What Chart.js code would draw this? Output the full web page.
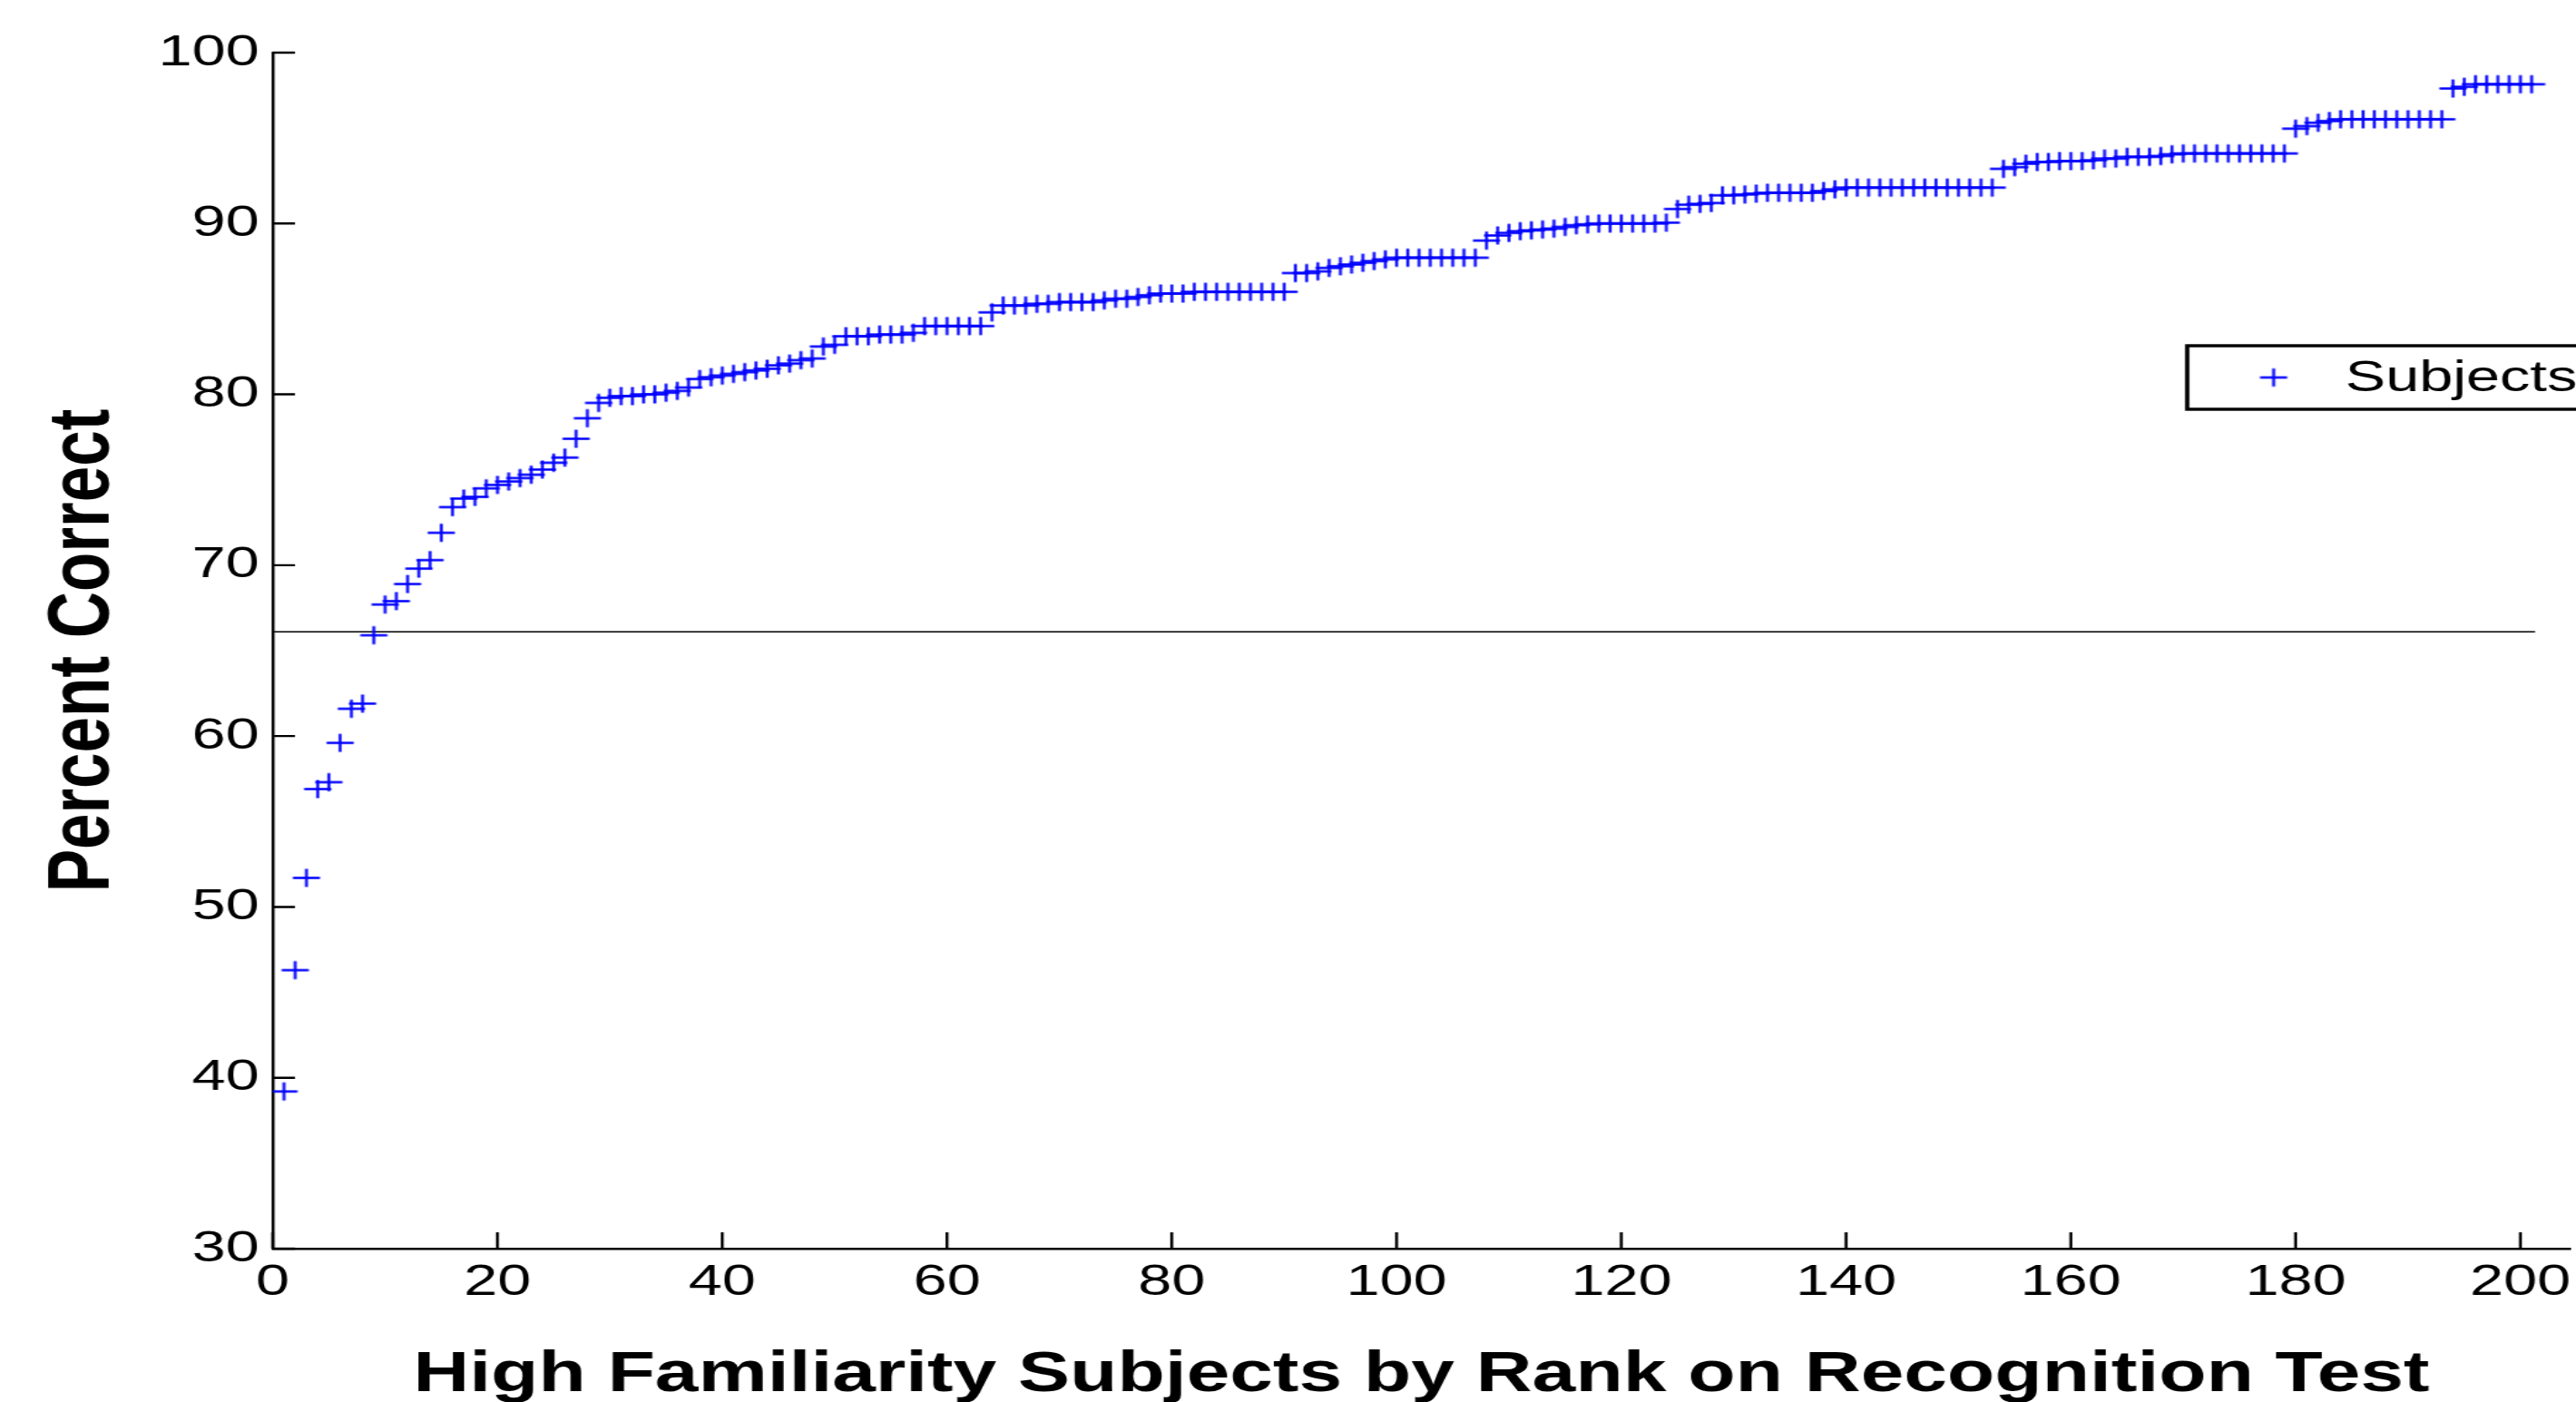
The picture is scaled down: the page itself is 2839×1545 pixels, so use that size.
<!DOCTYPE html>
<html>
<head>
<meta charset="utf-8">
<title>Percent Correct by Rank</title>
<script src="https://cdn.jsdelivr.net/npm/chart.js@4.4.1/dist/chart.umd.min.js"></script>
<style>
  html, body { margin: 0; padding: 0; background: #fff; overflow: hidden; }
  canvas { display: block; }
</style>
</head>
<body>
<!-- drawn on a narrower bitmap, then widened by CSS for the stretched look -->
<canvas id="chart" width="2087" height="1545" style="width:2839px;height:1545px"></canvas>
<script>
// Percent correct for each subject, ordered by rank (rank 1 = lowest score)
const percentCorrect = [
  39.2, 46.3, 51.7, 56.9, 57.3, 59.6, 61.6, 61.9, 65.9, 67.7,
  67.9, 68.9, 69.8, 70.3, 71.9, 73.4, 73.9, 74.0, 74.5, 74.7,
  74.9, 75.1, 75.3, 75.6, 76.0, 76.3, 77.4, 78.6, 79.5, 79.8,
  79.9, 79.9, 80.0, 80.0, 80.1, 80.2, 80.4, 80.9, 81.0, 81.1,
  81.2, 81.3, 81.4, 81.5, 81.7, 81.8, 82.0, 82.1, 82.8, 82.9,
  83.4, 83.4, 83.4, 83.5, 83.5, 83.5, 83.6, 84.0, 84.0, 84.0,
  84.0, 84.0, 84.0, 84.8, 85.2, 85.2, 85.2, 85.3, 85.3, 85.4,
  85.4, 85.4, 85.4, 85.5, 85.6, 85.6, 85.7, 85.8, 85.9, 85.9,
  85.9, 86.0, 86.0, 86.0, 86.0, 86.0, 86.0, 86.0, 86.0, 86.0,
  87.1, 87.1, 87.2, 87.4, 87.5, 87.6, 87.7, 87.8, 87.9, 88.0,
  88.0, 88.0, 88.0, 88.0, 88.0, 88.0, 88.0, 89.0, 89.3, 89.45,
  89.55, 89.6, 89.65, 89.7, 89.8, 89.9, 89.95, 90.0, 90.0, 90.0,
  90.0, 90.0, 90.0, 90.05, 90.85, 91.1, 91.15, 91.2, 91.65, 91.65,
  91.7, 91.75, 91.8, 91.8, 91.8, 91.8, 91.8, 91.9, 92.0, 92.1,
  92.1, 92.1, 92.1, 92.1, 92.1, 92.1, 92.1, 92.1, 92.1, 92.1,
  92.1, 92.1, 92.1, 93.2, 93.3, 93.5, 93.6, 93.6, 93.65, 93.65,
  93.65, 93.7, 93.8, 93.8, 93.9, 93.9, 93.9, 93.95, 94.05, 94.1,
  94.1, 94.1, 94.1, 94.1, 94.1, 94.1, 94.1, 94.1, 94.1, 95.55,
  95.7, 95.9, 96.0, 96.1, 96.1, 96.1, 96.1, 96.1, 96.1, 96.1,
  96.1, 96.1, 96.1, 97.9, 98.0, 98.15, 98.15, 98.15, 98.15, 98.15,
  98.15
];

// Horizontal criterion line
const criterionLevel = 66.1;
const criterionSpan = [0, 201.3];

const xTickValues = [0, 20, 40, 60, 80, 100, 120, 140, 160, 180, 200];
const yTickValues = [30, 40, 50, 60, 70, 80, 90, 100];

const xAxisTitle = 'High Familiarity Subjects by Rank on Recognition Test';
const yAxisTitle = 'Percent Correct';
const seriesLabel = 'Subjects';

const FONT = "'Liberation Sans', Arial, Helvetica, sans-serif";
const BLUE = '#0000ff';

// '+' marker drawn once into a small canvas and used as the point style
function makeCross(w, h, lw, color) {
  const c = document.createElement('canvas');
  c.width = Math.ceil(w + lw);
  c.height = Math.ceil(h + lw);
  const g = c.getContext('2d');
  const cx = c.width / 2, cy = c.height / 2;
  g.strokeStyle = color;
  g.lineWidth = lw;
  g.beginPath();
  g.moveTo(cx - w / 2, cy); g.lineTo(cx + w / 2, cy);
  g.moveTo(cx, cy - h / 2); g.lineTo(cx, cy + h / 2);
  g.stroke();
  return c;
}
const crossMarker = makeCross(22, 20, 2.3, BLUE);

const points = percentCorrect.map((v, i) => ({ x: i + 1, y: v }));
const criterionPoints = criterionSpan.map(x => ({ x, y: criterionLevel }));

// Inward tick marks and the boxed legend
const axesDecor = {
  id: 'axesDecor',
  afterDraw(chart) {
    const { ctx, chartArea: a, scales: { x, y } } = chart;
    ctx.save();
    ctx.strokeStyle = '#000';
    ctx.lineWidth = 2.4;
    ctx.beginPath();
    yTickValues.forEach(v => {
      const py = y.getPixelForValue(v);
      ctx.moveTo(a.left, py); ctx.lineTo(a.left + 18, py);
    });
    xTickValues.forEach(v => {
      const px = x.getPixelForValue(v);
      ctx.moveTo(px, a.bottom); ctx.lineTo(px, a.bottom - 18);
    });
    ctx.stroke();

    // legend box
    const boxLeft = 1772, boxTop = 381, boxBottom = 451;
    ctx.fillStyle = '#fff';
    ctx.fillRect(boxLeft, boxTop, 600, boxBottom - boxTop);
    ctx.lineWidth = 3.4;
    ctx.strokeRect(boxLeft, boxTop, 600, boxBottom - boxTop);
    const midY = (boxTop + boxBottom) / 2;
    ctx.drawImage(crossMarker, 1842 - crossMarker.width / 2, midY - crossMarker.height / 2);
    ctx.fillStyle = '#000';
    ctx.font = `49px ${FONT}`;
    ctx.textAlign = 'left';
    ctx.textBaseline = 'middle';
    ctx.fillText(seriesLabel, 1900, midY + 1);
    ctx.restore();
  }
};

new Chart(document.getElementById('chart'), {
  type: 'scatter',
  data: {
    datasets: [
      {
        label: seriesLabel,
        data: points,
        pointStyle: crossMarker,
        showLine: false
      },
      {
        type: 'line',
        label: 'criterion',
        data: criterionPoints,
        borderColor: '#000',
        borderWidth: 1.6,
        pointRadius: 0,
        fill: false
      }
    ]
  },
  options: {
    responsive: false,
    devicePixelRatio: 1,
    animation: false,
    events: [],
    layout: { padding: { top: 58, left: 0, right: 0, bottom: 0 } },
    plugins: {
      legend: { display: false },
      tooltip: { enabled: false },
      title: { display: false }
    },
    scales: {
      x: {
        type: 'linear',
        min: 0,
        max: 204.4,
        grid: { display: false, drawTicks: false },
        border: { display: true, color: '#000', width: 2.4 },
        afterBuildTicks: s => { s.ticks = xTickValues.map(v => ({ value: v })); },
        ticks: {
          autoSkip: false,
          maxRotation: 0,
          color: '#000',
          padding: 8,
          font: { family: FONT, size: 49 }
        },
        title: {
          display: true,
          text: xAxisTitle,
          color: '#000',
          font: { family: FONT, size: 63, weight: 'bold', lineHeight: 1 },
          padding: { top: 0, bottom: -2 }
        },
        afterFit: s => { s.height = 169; s.paddingLeft = 0; s.paddingRight = 0; }
      },
      y: {
        type: 'linear',
        min: 30,
        max: 100,
        grid: { display: false, drawTicks: false },
        border: { display: true, color: '#000', width: 2.4 },
        afterBuildTicks: s => { s.ticks = yTickValues.map(v => ({ value: v })); },
        ticks: {
          autoSkip: false,
          color: '#000',
          padding: 11,
          font: { family: FONT, size: 49 }
        },
        title: {
          display: true,
          text: yAxisTitle,
          color: '#000',
          font: { family: FONT, size: 71, weight: 'bold', lineHeight: 1 },
          padding: { top: 33, bottom: 0 }
        },
        afterFit: s => { s.width = 220.9; s.paddingTop = 0; s.paddingBottom = 0; }
      }
    }
  },
  plugins: [axesDecor]
});
</script>
</body>
</html>
